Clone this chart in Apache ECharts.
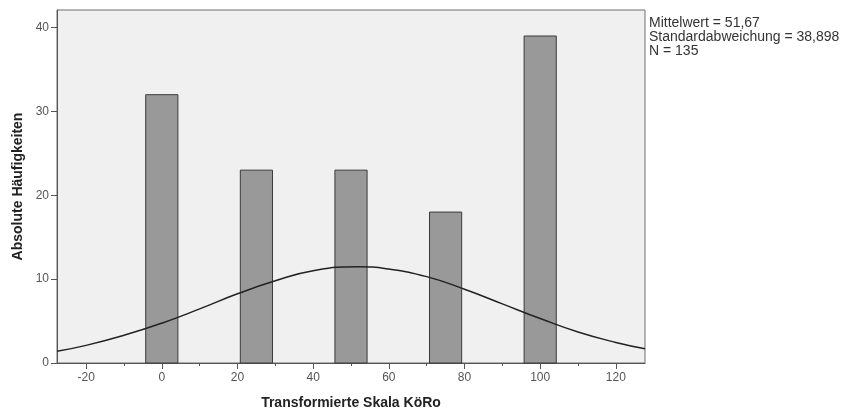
<!DOCTYPE html>
<html>
<head>
<meta charset="utf-8">
<script src="https://cdn.jsdelivr.net/npm/echarts@6/dist/echarts.min.js"></script>
<style>
  html, body { margin: 0; padding: 0; background: #fff; }
  #chart { width: 846px; height: 415px; }
</style>
</head>
<body>
<div id="chart"></div>
<script>
// bin centres and counts of the histogram
const binCenters = [0, 25, 50, 75, 100]
const binCounts = [32, 23, 23, 18, 39]
const binWidth = 8.5

// normal curve, points
const curveX = [-27.7, -20, -10, 0, 10, 20, 30, 40, 51.7, 60, 70, 80, 90, 100, 110, 120, 127.7]
const curveY = [1.4, 2.1, 3.3, 4.75, 6.45, 8.25, 9.8, 11.0, 11.47, 11.2, 10.3, 8.8, 7.05, 5.3, 3.7, 2.45, 1.7]

const xLabels = [-20, 0, 20, 40, 60, 80, 100, 120]
const xMinor = [-10, 10, 30, 50, 70, 90, 110]
const yTicks = [0, 10, 20, 30, 40]

const statsText = ['Mittelwert = 51,67', 'Standardabweichung = 38,898', 'N = 135']

const chart = echarts.init(document.getElementById('chart'))

const barData = binCenters.map((c, i) => [c, binCounts[i]])
const lineData = curveX.map((x, i) => [x, curveY[i]])

const option = {
  animation: false,
  textStyle: { fontFamily: 'Liberation Sans, Arial, sans-serif' },
  grid: {
    left: 57, top: 10, right: 201, bottom: 51,
    show: true,
    backgroundColor: '#f0f0f0',
    borderColor: '#6e6e6e',
    borderWidth: 1,
  },
  graphic: [{
    type: 'text',
    left: 649,
    top: 16,
    style: {
      text: statsText.join('\n'),
      fill: '#333',
      font: '14px "Liberation Sans", Arial, sans-serif',
      lineHeight: 14,
    },
  }],
  xAxis: [
    {
      type: 'value',
      min: -27.7,
      max: 127.7,
      name: 'Transformierte Skala KöRo',
      nameLocation: 'middle',
      nameGap: 33,
      nameTextStyle: { fontWeight: 'bold', fontSize: 14, color: '#222' },
      splitLine: { show: false },
      axisLine: { onZero: false, lineStyle: { color: '#555', width: 1 } },
      axisTick: { show: true, customValues: xLabels, length: 6, lineStyle: { color: '#555' } },
      axisLabel: { customValues: xLabels, color: '#555', fontSize: 12, margin: 9 },
    },
    {
      type: 'value',
      min: -27.7,
      max: 127.7,
      position: 'bottom',
      show: true,
      splitLine: { show: false },
      axisLine: { show: false, onZero: false },
      axisTick: { show: true, customValues: xMinor, length: 3, lineStyle: { color: '#555' } },
      axisLabel: { show: false, customValues: xMinor },
    },
  ],
  yAxis: {
    type: 'value',
    min: 0,
    max: 42.1,
    name: 'Absolute Häufigkeiten',
    nameLocation: 'middle',
    nameGap: 30,
    nameTextStyle: { fontWeight: 'bold', fontSize: 14, color: '#222' },
    splitLine: { show: false },
    axisLine: { show: true, onZero: false, lineStyle: { color: '#555', width: 1 } },
    axisTick: { show: true, customValues: yTicks, length: 6, lineStyle: { color: '#555' } },
    axisLabel: { customValues: yTicks, color: '#555', fontSize: 12, margin: 8 },
  },
  series: [
    {
      type: 'custom',
      xAxisIndex: 0,
      data: barData,
      renderItem: (params, api) => {
        const c = api.value(0)
        const v = api.value(1)
        const p0 = api.coord([c - binWidth / 2, v])
        const p1 = api.coord([c + binWidth / 2, 0])
        return {
          type: 'rect',
          shape: { x: p0[0], y: p0[1], width: p1[0] - p0[0], height: p1[1] - p0[1] },
          style: { fill: '#999999', stroke: '#3a3a3a', lineWidth: 1 },
        }
      },
      z: 2,
    },
    {
      type: 'line',
      xAxisIndex: 0,
      data: lineData,
      smooth: true,
      symbol: 'none',
      lineStyle: { color: '#222', width: 1.5 },
      z: 3,
    },
  ],
}

chart.setOption(option)
</script>
</body>
</html>
